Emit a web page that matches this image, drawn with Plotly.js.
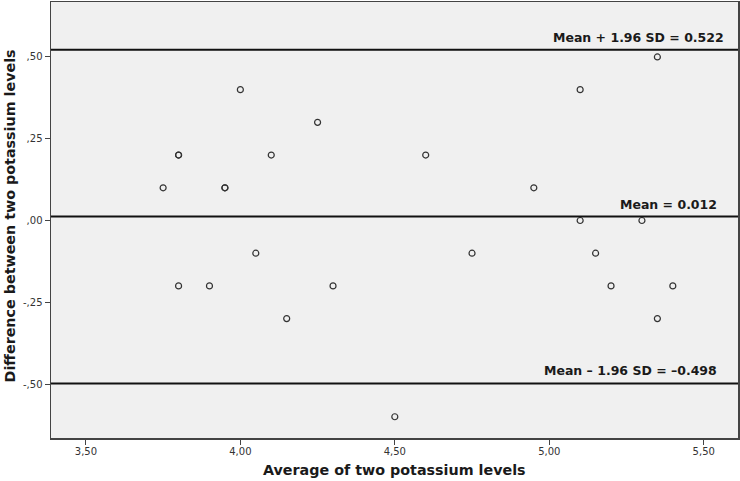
<!DOCTYPE html>
<html>
<head>
<meta charset="utf-8">
<script src="https://cdn.plot.ly/plotly-3.0.1.min.js"></script>
<style>html,body{margin:0;padding:0;background:#fff;}#chart{width:740px;height:481px;}</style>
</head>
<body>
<div id="chart"></div>
<script>
// Average of two potassium levels (x) and their difference (y)
const averages = [3.75, 3.80, 3.80, 3.80, 3.90, 3.95, 3.95, 4.00, 4.05, 4.10, 4.15, 4.25, 4.30,
                  4.50, 4.60, 4.75, 4.95, 5.10, 5.10, 5.15, 5.20, 5.30, 5.35, 5.35, 5.40];
const differences = [0.10, 0.20, 0.20, -0.20, -0.20, 0.10, 0.10, 0.40, -0.10, 0.20, -0.30, 0.30, -0.20,
                     -0.60, 0.20, -0.10, 0.10, 0.40, 0.00, -0.10, -0.20, 0.00, 0.50, -0.30, -0.20];

// Reference lines
const refValues = [0.522, 0.012, -0.498];
const refLabels = ["Mean + 1.96 SD = 0.522", "Mean = 0.012", "Mean \u2013 1.96 SD = \u20130.498"];

// Tick labels
const xTickVals = [3.5, 4.0, 4.5, 5.0, 5.5];
const xTickText = ["3,50", "4,00", "4,50", "5,00", "5,50"];
const yTickVals = [0.5, 0.25, 0, -0.25, -0.5];
const yTickText = [",50", ",25", ",00", "-,25", "-,50"];

const FONT = 'DejaVu Sans, Verdana, sans-serif';
const labelX = [0.982, 0.972, 0.972];

const shapes = refValues.map(v => ({
  type: 'line', xref: 'paper', x0: 0, x1: 1, yref: 'y', y0: v, y1: v,
  line: {color: '#111', width: 2}
}));

const annotations = refValues.map((v, i) => ({
  xref: 'paper', x: labelX[i], xanchor: 'right', yref: 'y', y: v, yanchor: 'bottom', yshift: 3,
  text: '<b>' + refLabels[i] + '</b>', showarrow: false,
  font: {family: FONT, size: 12.5, color: '#1a1a1a'}
}));

annotations.push({
  xref: 'paper', yref: 'paper', x: 0.5, y: -0.074, xanchor: 'center', yanchor: 'middle',
  text: '<b>Average of two potassium levels</b>', showarrow: false,
  font: {family: FONT, size: 14.3, color: '#1a1a1a'}
});
annotations.push({
  xref: 'paper', yref: 'paper', x: -0.06, y: 0.51, xanchor: 'center', yanchor: 'middle',
  textangle: -90,
  text: '<b>Difference between two potassium levels</b>', showarrow: false,
  font: {family: FONT, size: 14.3, color: '#1a1a1a'}
});

const trace = {
  type: 'scatter', mode: 'markers', x: averages, y: differences,
  marker: {symbol: 'circle-open', size: 6, color: '#333', line: {width: 1.2, color: '#333'}},
  hoverinfo: 'x+y'
};

const layout = {
  width: 740, height: 481,
  margin: {l: 51, r: 2, t: 2, b: 43, pad: 0},
  paper_bgcolor: '#ffffff', plot_bgcolor: '#f0f0f0',
  showlegend: false,
  font: {family: FONT, size: 10, color: '#333'},
  xaxis: {
    range: [3.387, 5.611], tickvals: xTickVals, ticktext: xTickText,
    ticks: 'outside', ticklen: 5, tickcolor: '#444', tickwidth: 1,
    ticklabelstandoff: -2,
    showline: true, linecolor: '#444', linewidth: 1.5, mirror: true,
    showgrid: false, zeroline: false,
    tickfont: {family: FONT, size: 10, color: '#333'}
  },
  yaxis: {
    range: [-0.665, 0.668], tickvals: yTickVals, ticktext: yTickText,
    ticks: 'outside', ticklen: 5, tickcolor: '#444', tickwidth: 1,
    showline: true, linecolor: '#444', linewidth: 1.5, mirror: true,
    showgrid: false, zeroline: false,
    tickfont: {family: FONT, size: 10, color: '#333'}
  },
  shapes: shapes,
  annotations: annotations
};

Plotly.newPlot('chart', [trace], layout, {displayModeBar: false, staticPlot: true});
</script>
</body>
</html>
